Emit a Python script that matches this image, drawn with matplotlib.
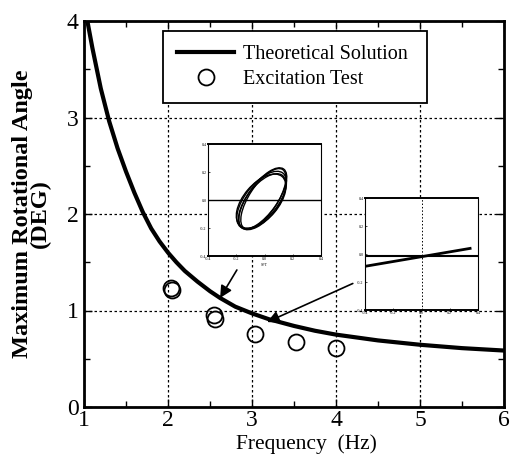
import matplotlib
matplotlib.use("Agg")
import matplotlib.pyplot as plt
from matplotlib.lines import Line2D
from matplotlib.patches import Ellipse
from matplotlib.ticker import MultipleLocator

plt.rcParams['font.family'] = ['Liberation Serif', 'DejaVu Serif']

# theoretical curve
theory_freq = [1.0, 1.04, 1.1, 1.2, 1.3, 1.4, 1.5, 1.6, 1.7, 1.8, 1.9, 2.0,
               2.1, 2.2, 2.35, 2.5, 2.62, 2.8, 3.0, 3.2, 3.5, 3.75, 4.0,
               4.5, 5.0, 5.5, 6.0]
theory_angle = [4.25, 4.0, 3.72, 3.30, 2.96, 2.68, 2.44, 2.22, 2.02, 1.85,
                1.715, 1.60, 1.50, 1.41, 1.30, 1.20, 1.13, 1.04, 0.97, 0.91,
                0.84, 0.79, 0.75, 0.69, 0.645, 0.61, 0.585]

# excitation test points (two repeats at 2 and 2.5 Hz)
test_freq = [2.05, 2.04, 2.56, 2.55, 3.04, 3.52, 4.0]
test_angle = [1.21, 1.23, 0.91, 0.95, 0.76, 0.67, 0.61]

xticks = [1, 2, 3, 4, 5, 6]
yticks = [0, 1, 2, 3, 4]

# arrows from the insets to the curve
arrow_heads = [(2.62, 1.13), (3.18, 0.88)]
arrow_tails = [(2.82, 1.42), (4.2, 1.28)]

# inset 1: orbit loops (centre x, centre y, width, height, angle)
loop_cx = [-0.05, -0.03, -0.06, -0.02, -0.04]
loop_cy = [0.0, 0.03, -0.02, 0.02, -0.03]
loop_w = [1.22, 1.28, 1.15, 1.25, 1.18]
loop_h = [0.58, 0.52, 0.62, 0.50, 0.56]
loop_ang = [52, 55, 50, 57, 53]

# inset 2: sloped record line
rec_x = [0.0, 0.93]
rec_y = [0.39, 0.55]

inset_ticks = [0, 0.25, 0.5, 0.75, 1.0]
inset_labels = ['-0.4', '-0.2', '0.0', '0.2', '0.4']

W, H = 511, 467
fig = plt.figure(figsize=(W / 100, H / 100), dpi=100)
ax = fig.add_axes([84 / W, 1 - 407 / H, 420 / W, 386 / H])

ax.plot(theory_freq, theory_angle, 'k-', lw=3, solid_capstyle='butt',
        solid_joinstyle='round', zorder=3)
ax.plot(test_freq, test_angle, 'o', ls='none', mfc='none', mec='k', mew=1.3,
        ms=11.5, zorder=3)

for head, tail in zip(arrow_heads, arrow_tails):
    ax.annotate('', xy=head, xytext=tail,
                arrowprops=dict(arrowstyle='-|>', color='k', lw=1.2,
                                mutation_scale=18, shrinkA=0, shrinkB=0),
                zorder=4)

ax.set_xlim(1, 6)
ax.set_ylim(0, 4)
ax.set_xticks(xticks)
ax.set_yticks(yticks)
ax.xaxis.set_minor_locator(MultipleLocator(0.5))
ax.yaxis.set_minor_locator(MultipleLocator(0.5))
ax.tick_params(which='both', direction='in', top=True, right=True, width=1)
ax.tick_params(which='major', length=6, labelsize=17)
ax.tick_params(which='minor', length=4)
ax.tick_params(axis='x', pad=2)
ax.tick_params(axis='y', pad=4)
ax.grid(True, which='major', color='k', ls=(0, (2, 2)), lw=0.9)
for s in ax.spines.values():
    s.set_linewidth(2)

ax.set_xlabel('Frequency  (Hz)', fontsize=15.5)
ax.xaxis.set_label_coords(0.529, -0.07)
fig.text(31 / W, 1 - 214 / H, 'Maximum Rotational Angle\n(DEG)', rotation=90,
         ha='center', va='center', fontsize=17.5, fontweight='bold',
         linespacing=0.8)

handles = [Line2D([], [], color='k', lw=3),
           Line2D([], [], marker='o', ls='none', mfc='none', mec='k', mew=1.3, ms=11.5)]
leg = ax.legend(handles, ['Theoretical Solution', 'Excitation Test'],
                loc='upper left', bbox_to_anchor=(0.188, 0.785, 0.629, 0.189),
                mode='expand', fontsize=14.5, frameon=True, fancybox=False,
                framealpha=1, edgecolor='k', handlelength=2.85,
                handletextpad=0.4, borderpad=0.7, labelspacing=0.3,
                borderaxespad=0)
leg.get_frame().set_linewidth(1.3)
leg.set_zorder(5)

# inset 1: orbit
in1 = fig.add_axes([208 / W, 1 - 256 / H, 113 / W, 112 / H])
in1.set_xlim(-1, 1)
in1.set_ylim(-1, 1)
in1.axhline(0, color='k', lw=1)
for cx, cy, w, h, a in zip(loop_cx, loop_cy, loop_w, loop_h, loop_ang):
    in1.add_patch(Ellipse((cx, cy), w, h, angle=a, fill=False, ec='k', lw=1))
in1.set_xticks([-1, -0.5, 0, 0.5, 1])
in1.set_yticks([-1, -0.5, 0, 0.5, 1])
in1.set_xticklabels(inset_labels)
in1.set_yticklabels(inset_labels)
in1.set_xlabel('SPT', fontsize=3, labelpad=1)

# inset 2: record
in2 = fig.add_axes([365 / W, 1 - 310 / H, 113 / W, 112 / H])
in2.set_xlim(0, 1)
in2.set_ylim(0, 1)
in2.axhline(0.48, color='k', lw=1.5)
in2.axvline(0.5, color='k', lw=0.7, ls=(0, (1.5, 2)))
in2.plot(rec_x, rec_y, 'k-', lw=2)
in2.set_xticks(inset_ticks)
in2.set_yticks(inset_ticks)
in2.set_xticklabels(inset_labels)
in2.set_yticklabels(inset_labels)

for a in (in1, in2):
    a.set_facecolor('white')
    a.tick_params(direction='in', length=1.5, width=0.5, labelsize=3,
                  pad=1, colors='k')
    for s in a.spines.values():
        s.set_linewidth(0.8)
    a.spines['top'].set_linewidth(1.4)
    a.spines['bottom'].set_linewidth(1.4)
    a.spines['left'].set_linestyle((0, (2, 1)))

fig.savefig('out.png', dpi=100)
